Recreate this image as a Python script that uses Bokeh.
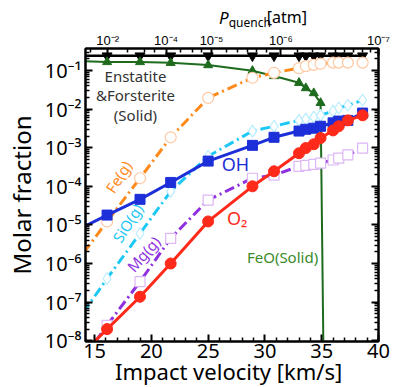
from bokeh.plotting import figure
from bokeh.layouts import column
from bokeh.models import (Range1d, LogAxis, LinearAxis, FixedTicker, Div,
                          CustomJSTickFormatter, Label, ColumnDataSource)
from bokeh.embed import file_html
from bokeh.resources import INLINE

# ---------------- data ----------------
velocity = [13.0, 16.1, 19.0, 21.7, 25.0, 28.9, 30.8, 33.0, 33.6, 34.3, 34.9, 36.0, 36.5, 37.3, 38.6]

oh = [6.3e-6, 1.8e-5, 4.6e-5, 1.26e-4, 4.5e-4, 1.15e-3, 1.86e-3, 2.7e-3, 3.0e-3, 3.2e-3, 3.6e-3, 4.4e-3, 4.9e-3, 5.1e-3, 7.9e-3]
fe_g = [7.4e-7, 1.23e-5, 1.62e-4, 1.86e-3, 1.95e-2, 6.5e-2, 8.7e-2, 0.115, 0.13, 0.14, 0.15, 0.16, 0.16, 0.16, 0.16]
sio_g = [2.0e-8, 4.1e-7, 6.0e-6, 7.4e-5, 6.0e-4, 2.7e-3, 3.6e-3, 5.1e-3, 5.5e-3, 6.2e-3, 6.9e-3, 8.9e-3, 1.07e-2, 1.26e-2, 1.7e-2]
mg_g = [1.4e-9, 2.5e-8, 3.4e-7, 4.5e-6, 4.4e-5, 1.62e-4, 1.95e-4, 3.3e-4, 3.5e-4, 3.7e-4, 4.0e-4, 4.8e-4, 5.4e-4, 6.5e-4, 9.8e-4]
o2 = [2.5e-9, 2.0e-8, 1.38e-7, 1.0e-6, 1.23e-5, 1.0e-4, 2.45e-4, 7.2e-4, 9.8e-4, 1.23e-3, 1.78e-3, 2.8e-3, 3.6e-3, 5.1e-3, 6.9e-3]
enstatite = [0.24, 0.24, 0.24, 0.24, 0.24, 0.24, 0.24, 0.24, 0.24, 0.24, 0.24, 0.24, 0.24, 0.24, 0.24]

feo_velocity = [13.0, 16.1, 19.0, 21.7, 25.0, 28.9, 30.8, 33.0, 33.6, 34.3, 34.9, 36.0]
feo_solid = [0.178, 0.166, 0.166, 0.158, 0.138, 0.098, 0.072, 0.048, 0.035, 0.026, 0.0145, 1e-30]

x_ticks = [15, 20, 25, 30, 35, 40]
x_minor = [14, 16, 17, 18, 19, 21, 22, 23, 24, 26, 27, 28, 29, 31, 32, 33, 34, 36, 37, 38, 39]
y_ticks = [1e-8, 1e-7, 1e-6, 1e-5, 1e-4, 1e-3, 1e-2, 1e-1]

p_quench_velocity = [16.15, 21.3, 25.3, 31.4, 40.0]
p_quench_labels = ["10⁻²", "10⁻⁴", "10⁻⁵", "10⁻⁶", "10⁻⁷"]
p_quench_minor = [14.6, 17.9, 19.4, 20.3, 22.6, 23.6, 24.4, 26.6, 27.6, 28.5, 29.3, 30.1,
                  32.9, 34.2, 35.3, 36.2, 37.0, 37.8, 38.6, 39.3]

FONT = "Noto Sans"
W = 393

# ---------------- main figure ----------------
p = figure(frame_width=293, frame_height=293, x_range=Range1d(14.2, 40.0),
           y_range=Range1d(10 ** -8.02, 10 ** -0.43), y_axis_type="log",
           output_backend="svg", toolbar_location=None,
           min_border_left=85, min_border_right=15, min_border_top=16, min_border_bottom=30)
p.xgrid.visible = False
p.ygrid.visible = False
p.outline_line_color = "black"
p.outline_line_width = 2
p.background_fill_color = "white"
p.border_fill_color = "white"

sup_code = """
const e = Math.round(Math.log10(tick));
const m = {"-":"⁻","0":"⁰","1":"¹","2":"²","3":"³","4":"⁴","5":"⁵","6":"⁶","7":"⁷","8":"⁸","9":"⁹"};
return "10" + String(e).split("").map(c => m[c]).join("");
"""
y_minor = [k * d for d in [1e-9, 1e-8, 1e-7, 1e-6, 1e-5, 1e-4, 1e-3, 1e-2, 1e-1] for k in range(2, 10)]


def style_axis(ax):
    ax.axis_line_width = 2
    ax.axis_line_color = "black"
    ax.major_tick_in = 7
    ax.major_tick_out = 0
    ax.minor_tick_in = 4
    ax.minor_tick_out = 0
    ax.major_tick_line_width = 2
    ax.minor_tick_line_width = 1.5
    ax.major_label_text_font = FONT
    ax.axis_label_text_font = FONT
    ax.axis_label_text_font_style = "normal"
    ax.axis_label_text_color = "black"
    ax.major_label_text_color = "black"


yax = p.yaxis[0]
yax.ticker = FixedTicker(ticks=y_ticks, minor_ticks=y_minor)
yax.formatter = CustomJSTickFormatter(code=sup_code)
style_axis(yax)
yax.major_label_text_font_size = "20px"
yax.axis_label = "Molar fraction"
yax.axis_label_text_font_size = "24px"
yax.major_label_standoff = 4
yax.axis_label_standoff = 4

xax = p.xaxis[0]
xax.ticker = FixedTicker(ticks=x_ticks, minor_ticks=x_minor)
style_axis(xax)
xax.major_label_text_font_size = "20px"
xax.major_label_standoff = 2

rax = LogAxis(ticker=FixedTicker(ticks=y_ticks, minor_ticks=y_minor),
              formatter=CustomJSTickFormatter(code="return '';"))
style_axis(rax)
rax.major_label_text_font_size = "2px"
rax.major_label_standoff = 0
p.add_layout(rax, "right")

tax = LinearAxis(ticker=FixedTicker(ticks=p_quench_velocity, minor_ticks=p_quench_minor),
                 formatter=CustomJSTickFormatter(
                     args=dict(vals=p_quench_velocity, labs=p_quench_labels),
                     code="const i = vals.findIndex(v => Math.abs(v - tick) < 1e-6); return i >= 0 ? labs[i] : '';"))
style_axis(tax)
tax.major_label_text_font = "Liberation Sans"
tax.major_label_text_font_size = "13px"
tax.major_label_standoff = 1
p.add_layout(tax, "above")

# ---------------- series ----------------
src = ColumnDataSource(dict(v=velocity, oh=oh, fe=fe_g, sio=sio_g, mg=mg_g, o2=o2, ens=enstatite))
feo_src = ColumnDataSource(dict(v=feo_velocity, feo=feo_solid))

p.line("v", "ens", source=src, color="black", line_width=2.5)
p.scatter("v", "ens", source=src, marker="inverted_triangle", size=10, color="black")

p.line("v", "feo", source=feo_src, color="#1e6b1e", line_width=2)
p.scatter("v", "feo", source=feo_src, marker="triangle", size=9, color="#1e6b1e")

p.line("v", "fe", source=src, color="#ff8a1c", line_width=3, line_dash="10 4 2 4")
p.scatter("v", "fe", source=src, marker="circle", size=11, fill_color="white",
          line_color="#ffc9a3", line_width=1.2)

p.line("v", "sio", source=src, color="#1ec8f5", line_width=3, line_dash="10 4 2 4")
p.scatter("v", "sio", source=src, marker="diamond", size=12, fill_color="white",
          line_color="#b8ecff", line_width=1.2)

p.line("v", "mg", source=src, color="#8e2fe0", line_width=3, line_dash="10 4 2 4")
p.scatter("v", "mg", source=src, marker="square", size=10, fill_color="white",
          line_color="#dcb6f5", line_width=1.2)

p.line("v", "oh", source=src, color="#1d2fd8", line_width=3)
p.scatter("v", "oh", source=src, marker="square", size=10, color="#1d2fd8")

p.line("v", "o2", source=src, color="#ff2a1a", line_width=3)
p.scatter("v", "o2", source=src, marker="circle", size=11, color="#ff2a1a")

# ---------------- in-plot labels ----------------
def lab(fig, x, y, text, color, size, angle=0.0, align="center", style="normal"):
    fig.add_layout(Label(x=x, y=y, text=text, text_color=color, text_font=FONT,
                         text_font_size=size, angle=angle, text_align=align,
                         text_baseline="middle", text_font_style=style))

lab(p, 18.6, 10 ** -1.14, "Enstatite", "#333333", "15px")
lab(p, 18.6, 10 ** -1.64, "&Forsterite", "#333333", "15px")
lab(p, 18.6, 10 ** -2.16, "(Solid)", "#333333", "15px")
lab(p, 17.1, 10 ** -3.75, "Fe(g)", "#ff8a1c", "15px", angle=1.0)
lab(p, 17.9, 10 ** -4.95, "SiO(g)", "#1ec8f5", "15px", angle=1.0)
lab(p, 19.3, 10 ** -5.75, "Mg(g)", "#8e2fe0", "15px", angle=0.85)
lab(p, 27.4, 10 ** -3.42, "OH", "#1d2fd8", "18px")
lab(p, 27.55, 10 ** -4.83, "O₂", "#ff2a1a", "18px")
lab(p, 31.55, 10 ** -5.84, "FeO(Solid)", "#3a8a2a", "15px")

# ---------------- top strip: P_quench [atm] ----------------
p_top = figure(width=W, height=29, x_range=Range1d(0, W), y_range=Range1d(29, 0),
               output_backend="svg", toolbar_location=None, min_border=0,
               x_axis_location=None, y_axis_location=None)
p_top.xgrid.visible = False
p_top.ygrid.visible = False
p_top.outline_line_color = None
p_top.border_fill_color = "white"
lab(p_top, 185.5, 16.5, "P", "black", "17px", style="italic")
lab(p_top, 192, 21.5, "quench", "black", "12px", align="left")
lab(p_top, 243, 16, "[atm]", "black", "16px", align="left")

# ---------------- bottom: axis title ----------------
bottom_title = Div(
    text='<div style="position:relative;width:393px;height:15px">'
         '<span style="position:absolute;left:115px;top:-9px;font-family:\'Noto Sans\';'
         'font-size:22px;line-height:18px;white-space:nowrap;color:black">'
         'Impact velocity [km/s]</span></div>',
    width=W, height=15, margin=(0, 0, 0, 0))

layout = column(p_top, p, bottom_title, spacing=0)

open("out.html", "w").write(file_html(layout, INLINE))
